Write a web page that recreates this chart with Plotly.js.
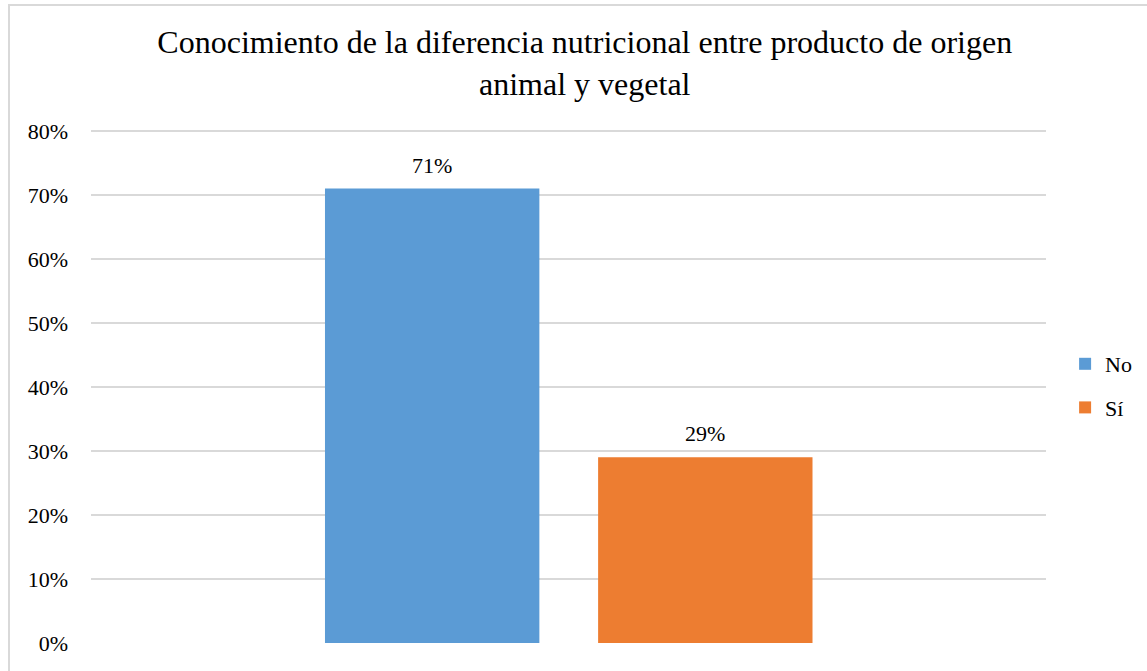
<!DOCTYPE html>
<html>
<head>
<meta charset="utf-8">
<script src="https://cdn.plot.ly/plotly-3.0.1.min.js"></script>
<style>
html,body{margin:0;padding:0;overflow:hidden;background:#fff;}
#chart{position:absolute;left:0;top:0;width:1147px;height:671px;}
#frame{position:absolute;left:8px;top:4px;width:2000px;height:2000px;border:2px solid #d9d9d9;pointer-events:none;}
</style>
</head>
<body>
<div id="chart"></div>
<div id="frame"></div>
<script>
const titleText = 'Conocimiento de la diferencia nutricional entre producto de origen<br>animal y vegetal';
const category = ['Respuesta'];
const seriesNames = ['No', 'Sí'];
const seriesValues = [0.71, 0.29];
const seriesColors = ['#5B9BD5', '#ED7D31'];
const yTickValues = [0, 0.1, 0.2, 0.3, 0.4, 0.5, 0.6, 0.7, 0.8];
const yTickLabels = ['0%', '10%', '20%', '30%', '40%', '50%', '60%', '70%', '80%'];

const barOffsets = [-0.255, 0.031];
const barWidth = 0.2245;
const fontFamily = 'Liberation Serif';

const traces = seriesNames.map((name, i) => ({
  type: 'bar',
  name: name,
  x: category,
  y: [seriesValues[i]],
  offset: barOffsets[i],
  width: barWidth,
  marker: {color: seriesColors[i]},
  legendgroup: 'g' + i,
  hoverinfo: 'name+y'
}));

const annotations = seriesNames.map((name, i) => ({
  x: barOffsets[i] + barWidth / 2,
  y: seriesValues[i],
  xref: 'x', yref: 'y',
  text: Math.round(seriesValues[i] * 100) + '%',
  showarrow: false,
  yanchor: 'bottom',
  yshift: 9,
  font: {family: fontFamily, size: 22, color: '#000'}
}));

const layout = {
  width: 1147, height: 671,
  margin: {l: 91, r: 101, t: 129, b: 28, pad: 0, autoexpand: false},
  paper_bgcolor: 'rgba(0,0,0,0)',
  plot_bgcolor: '#fff',
  font: {family: fontFamily, size: 22, color: '#000'},
  title: {
    text: titleText,
    font: {family: fontFamily, size: 32, color: '#000'},
    x: 0.517, xanchor: 'center', xref: 'paper',
    y: 1 - 53 / 671, yanchor: 'top', yref: 'container',
    automargin: false
  },
  barmode: 'overlay',
  showlegend: true,
  legend: {
    x: 1.020, xanchor: 'left',
    y: 0.5, yanchor: 'middle',
    font: {family: fontFamily, size: 22, color: '#000'},
    traceorder: 'grouped',
    tracegroupgap: 12,
    bgcolor: 'rgba(0,0,0,0)',
    borderwidth: 0
  },
  xaxis: {
    type: 'category',
    range: [-0.5, 0.5],
    showticklabels: false,
    showgrid: false,
    zeroline: false,
    showline: false,
    ticks: ''
  },
  yaxis: {
    range: [0, 0.803],
    tickvals: yTickValues,
    ticktext: yTickLabels,
    showgrid: true,
    gridcolor: '#d9d9d9',
    gridwidth: 1.5,
    zeroline: false,
    showline: false,
    ticks: '',
    ticklabelstandoff: 22,
    tickfont: {family: fontFamily, size: 22, color: '#000'}
  },
  annotations: annotations
};

Plotly.newPlot('chart', traces, layout, {displayModeBar: false});
</script>
</body>
</html>
